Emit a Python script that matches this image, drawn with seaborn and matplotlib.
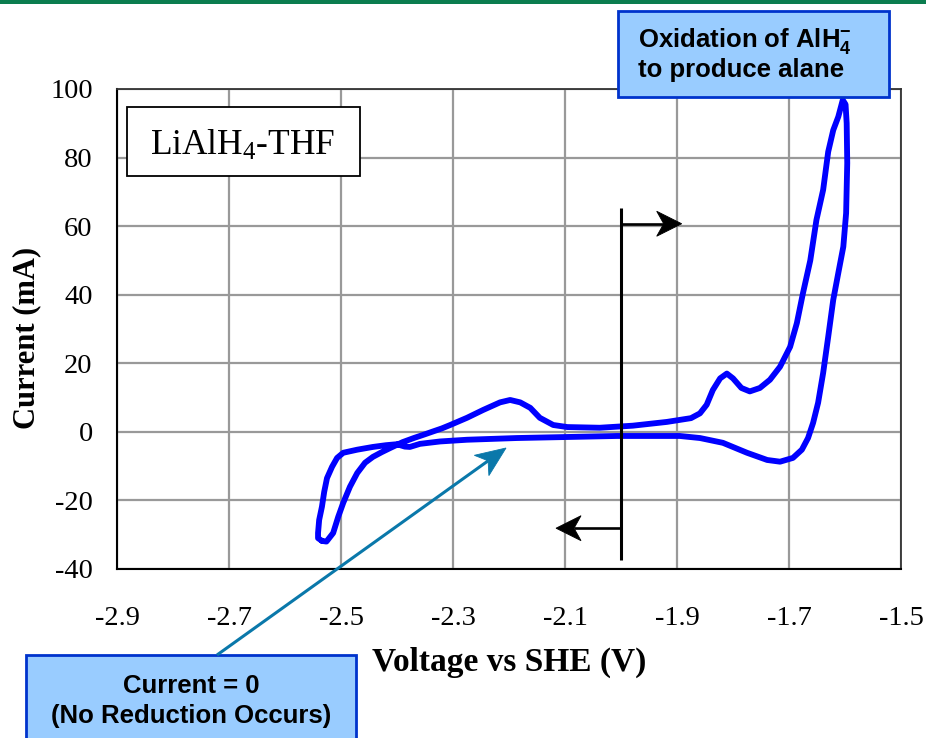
import numpy as np
import pandas as pd
import matplotlib
matplotlib.use("Agg")
import matplotlib.pyplot as plt
import seaborn as sns
from matplotlib.patches import Rectangle, Polygon
from matplotlib.lines import Line2D
from matplotlib.transforms import IdentityTransform

# Cyclic voltammogram of LiAlH4 in THF: one closed loop, anodic sweep first
voltage = [
    -2.534, -2.526, -2.514, -2.505, -2.496, -2.484, -2.471, -2.457, -2.443, -2.427,
    -2.412, -2.390, -2.370, -2.350, -2.336, -2.320, -2.305, -2.275, -2.246, -2.216,
    -2.198, -2.180, -2.162, -2.145, -2.121, -2.096, -2.038, -1.979, -1.918, -1.875,
    -1.859, -1.847, -1.836, -1.823, -1.811, -1.800, -1.785, -1.770, -1.752, -1.734,
    -1.716, -1.698, -1.686, -1.675, -1.662, -1.651, -1.639, -1.630, -1.621, -1.612,
    -1.604,
    # cathodic return sweep
    -1.599, -1.597, -1.596, -1.598, -1.603, -1.612, -1.621, -1.630, -1.639, -1.648,
    -1.657, -1.666, -1.677, -1.693, -1.716, -1.739, -1.775, -1.818, -1.859, -1.895,
    -1.950, -2.007, -2.096, -2.186, -2.275, -2.323, -2.359, -2.377, -2.386, -2.400,
    -2.420, -2.443, -2.471, -2.496, -2.507, -2.516, -2.525, -2.530, -2.534, -2.539,
    -2.541, -2.541, -2.534,
]
current = [
    -31.8, -32.0, -29.5, -24.8, -20.7, -16.0, -12.0, -9.0, -7.3, -5.9,
    -4.7, -3.0, -1.8, -0.7, 0.1, 1.0, 2.0, 4.1, 6.4, 8.6,
    9.3, 8.6, 7.0, 4.1, 2.0, 1.4, 1.2, 1.8, 2.9, 4.0,
    5.4, 7.9, 12.2, 15.6, 17.0, 15.6, 12.8, 11.8, 12.8, 15.2,
    19.0, 24.8, 31.7, 40.5, 50.0, 61.8, 70.6, 81.7, 88.0, 91.9,
    96.8,
    95.5, 90.0, 78.4, 63.8, 54.0, 46.3, 38.5, 27.7, 17.2, 8.5,
    2.6, -1.8, -5.2, -7.6, -8.7, -8.2, -6.1, -3.2, -1.8, -1.2,
    -1.2, -1.2, -1.5, -1.8, -2.3, -2.8, -3.5, -4.4, -4.3, -3.6,
    -3.9, -4.4, -5.2, -6.1, -7.6, -10.2, -13.5, -17.5, -21.8, -25.7,
    -29.5, -31.0, -31.8,
]

x_ticks = [-2.9, -2.7, -2.5, -2.3, -2.1, -1.9, -1.7, -1.5]
x_tick_labels = ["-2.9", "-2.7", "-2.5", "-2.3", "-2.1", "-1.9", "-1.7", "-1.5"]
y_ticks = [-40, -20, 0, 20, 40, 60, 80, 100]
y_tick_labels = ["-40", "-20", "0", "20", "40", "60", "80", "100"]

sns.set_style("white")
plt.rcParams["font.family"] = ["Liberation Serif", "DejaVu Serif"]
plt.rcParams["axes.unicode_minus"] = False
plt.rcParams["text.color"] = "black"
plt.rcParams["axes.labelcolor"] = "black"
plt.rcParams["xtick.color"] = "black"
plt.rcParams["ytick.color"] = "black"

W, H = 926, 738
fig = plt.figure(figsize=(W / 100, H / 100), dpi=100)
fig.patch.set_facecolor("white")
ax = fig.add_axes([117 / W, 1 - 569 / H, 784 / W, 480 / H])

df = pd.DataFrame({"Voltage": voltage, "Current": current})
sns.lineplot(data=df, x="Voltage", y="Current", sort=False, estimator=None,
             color="#0000ff", lw=4.2, ax=ax, zorder=3)

ax.set_xlim(-2.9, -1.5)
ax.set_ylim(-40, 100)
ax.set_xticks(x_ticks)
ax.set_xticklabels(x_tick_labels)
ax.set_yticks(y_ticks)
ax.set_yticklabels(y_tick_labels)
ax.grid(True, color="#999999", lw=1.6)
ax.set_axisbelow(True)
for side in ["left", "bottom"]:
    ax.spines[side].set_color("black")
    ax.spines[side].set_linewidth(1.5)
for side in ["top", "right"]:
    ax.spines[side].set_color("#333333")
    ax.spines[side].set_linewidth(1.3)
ax.tick_params(axis="both", direction="out", length=7.5, width=1.2,
               color="black", labelsize=20.5, labelcolor="black")
ax.tick_params(axis="x", pad=19)
ax.tick_params(axis="y", pad=10)

ax.set_xlabel("Voltage vs SHE (V)", fontsize=24, fontweight="bold", va="center",
              color="black")
ax.xaxis.set_label_coords(0.5, (569 - 662) / 480)
ax.set_ylabel("Current (mA)", fontsize=22, fontweight="bold", va="center",
              color="black")
ax.yaxis.set_label_coords((27 - 117) / 784, (569 - 338) / 480)

ident = IdentityTransform()


def fx(x):
    return x / W


def fy(y):
    return 1 - y / H


def box(x0, y0, x1, y1, fc, ec, lw):
    r = Rectangle((x0, H - y1), x1 - x0, y1 - y0, fc=fc, ec=ec, lw=lw,
                  transform=ident, zorder=4)
    fig.add_artist(r)


def stealth(tail, tip, color, lw, length, width, notch):
    tail = np.asarray(tail, float)
    tip = np.asarray(tip, float)
    d = tip - tail
    u = d / np.hypot(*d)
    n = np.array([-u[1], u[0]])
    back = tip - length * u
    inner = tip - (length - notch) * u
    shaft = Line2D([tail[0], inner[0]], [tail[1], inner[1]], color=color, lw=lw,
                   solid_capstyle="butt", transform=ident, zorder=5)
    head = Polygon([tip, back + width / 2 * n, inner, back - width / 2 * n],
                   closed=True, fc=color, ec=color, lw=0.6, transform=ident, zorder=5)
    fig.add_artist(shaft)
    fig.add_artist(head)


# green rule across the top of the slide
fig.add_artist(Rectangle((0, H - 3.5), W, 3.5, fc="#0b7d4f", ec="none",
                         transform=ident, zorder=4))

# sample label
box(127, 107, 360, 176, "white", "black", 1.3)
fig.text(fx(243), fy(155), r"LiAl$\mathregular{H_4}$-THF", fontsize=25.5,
         family="Liberation Serif", color="black", ha="center", va="baseline",
         zorder=6)

# oxidation callout
box(618, 11, 889, 97, "#99ccff", "#0033cc", 2.0)
sans = dict(family="Liberation Sans", fontweight="bold", fontsize=18.5,
            color="black", ha="left", va="baseline", zorder=6)
fig.text(fx(638), fy(47), r"Oxidation of Al$\mathregular{H_4^{-}}$", **sans)
fig.text(fx(638), fy(77), "to produce alane", **sans)

# zero-current callout
box(26, 655, 356, 760, "#99ccff", "#0033cc", 2.0)
sans_c = dict(sans, ha="center")
fig.text(fx(191), fy(693), "Current = 0", **sans_c)
fig.text(fx(191), fy(723), "(No Reduction Occurs)", **sans_c)
stealth((217, H - 655), (506, H - 448), "#0a78aa", 2.2, 30, 25, 8)

# switching potential marker with sweep-direction arrows
ax.plot([-2.0, -2.0], [65.3, -37.3], color="black", lw=2.2, zorder=5,
        solid_capstyle="butt", clip_on=False)
t0 = ax.transData.transform((-2.0, 60.7))
t1 = ax.transData.transform((-1.8916, 60.7))
stealth(t0, t1, "black", 1.9, 25, 25, 7)
t0 = ax.transData.transform((-2.0, -28.1))
t1 = ax.transData.transform((-2.116, -28.1))
stealth(t0, t1, "black", 1.9, 25, 25, 7)

fig.savefig("out.png", dpi=100, facecolor="white")
